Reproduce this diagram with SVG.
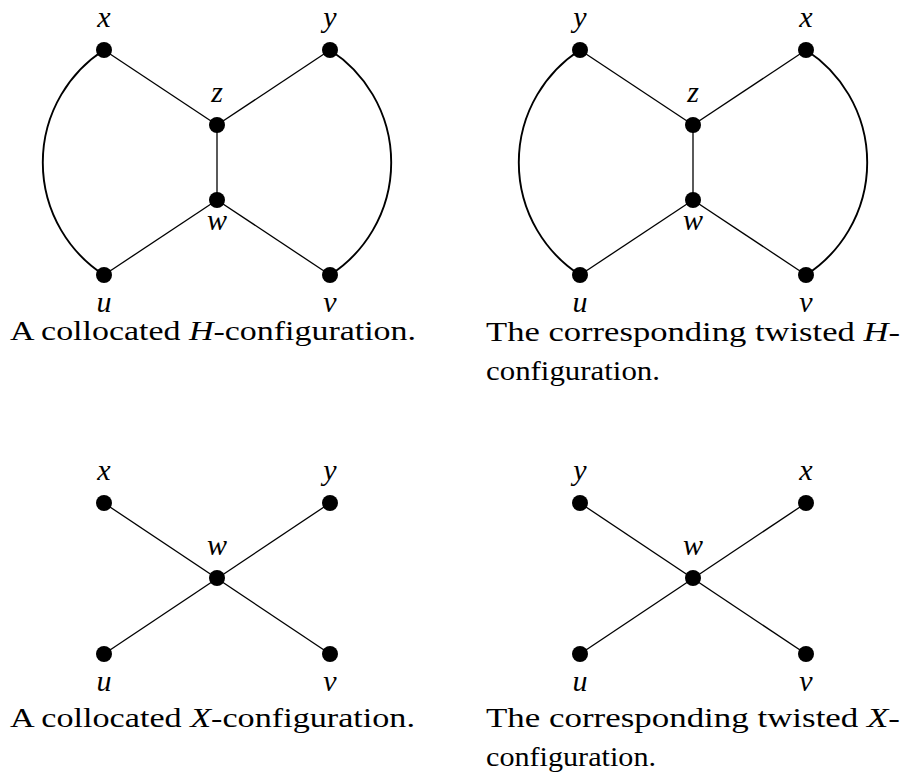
<svg xmlns="http://www.w3.org/2000/svg" width="904" height="782" viewBox="0 0 904 782">
<style>
.e{stroke:#000;stroke-width:1.3;fill:none}
.c{stroke:#000;stroke-width:1.9;fill:none}
.n{fill:#000}
.l{font-family:'Liberation Serif','Times New Roman',Times,serif;font-style:italic;font-size:30px;text-anchor:middle;fill:#000}
.cap{font-family:'Liberation Serif','Times New Roman',Times,serif;font-size:28px;fill:#000}
.i{font-style:italic}
</style>
<rect width="904" height="782" fill="#fff"/>
<g id="connectors">
  <path class="c" d="M104,50 A134,134 0 0 0 104,275"/>
  <path class="c" d="M330,50 A134,134 0 0 1 330,275"/>
  <line class="e" x1="104" y1="50" x2="217" y2="125"/>
  <line class="e" x1="330" y1="50" x2="217" y2="125"/>
  <line class="e" x1="217" y1="125" x2="217" y2="200"/>
  <line class="e" x1="217" y1="200" x2="104" y2="275"/>
  <line class="e" x1="217" y1="200" x2="330" y2="275"/>
  <path class="c" d="M580,50 A134,134 0 0 0 580,275"/>
  <path class="c" d="M806,50 A134,134 0 0 1 806,275"/>
  <line class="e" x1="580" y1="50" x2="693" y2="125"/>
  <line class="e" x1="806" y1="50" x2="693" y2="125"/>
  <line class="e" x1="693" y1="125" x2="693" y2="200"/>
  <line class="e" x1="693" y1="200" x2="580" y2="275"/>
  <line class="e" x1="693" y1="200" x2="806" y2="275"/>
  <line class="e" x1="104" y1="503" x2="330" y2="654"/>
  <line class="e" x1="330" y1="503" x2="104" y2="654"/>
  <line class="e" x1="580" y1="503" x2="806" y2="654"/>
  <line class="e" x1="806" y1="503" x2="580" y2="654"/>
</g>
<g id="H1">
  <g id="H1-x"><circle class="n" cx="104" cy="50" r="8"/><text class="l" x="104" y="27">x</text></g>
  <g id="H1-y"><circle class="n" cx="330" cy="50" r="8"/><text class="l" x="330" y="27">y</text></g>
  <g id="H1-z"><circle class="n" cx="217" cy="125" r="8"/><text class="l" x="217" y="102">z</text></g>
  <g id="H1-w"><circle class="n" cx="217" cy="200" r="8"/><text class="l" x="217" y="230">w</text></g>
  <g id="H1-u"><circle class="n" cx="104" cy="275" r="8"/><text class="l" x="104" y="312">u</text></g>
  <g id="H1-v"><circle class="n" cx="330" cy="275" r="8"/><text class="l" x="330" y="312">v</text></g>
  <text class="cap" x="10" y="340" textLength="406" lengthAdjust="spacingAndGlyphs">A collocated <tspan class="i">H</tspan>-configuration.</text>
</g>
<g id="H2">
  <g id="H2-y"><circle class="n" cx="580" cy="50" r="8"/><text class="l" x="580" y="27">y</text></g>
  <g id="H2-x"><circle class="n" cx="806" cy="50" r="8"/><text class="l" x="806" y="27">x</text></g>
  <g id="H2-z"><circle class="n" cx="693" cy="125" r="8"/><text class="l" x="693" y="102">z</text></g>
  <g id="H2-w"><circle class="n" cx="693" cy="200" r="8"/><text class="l" x="693" y="230">w</text></g>
  <g id="H2-u"><circle class="n" cx="580" cy="275" r="8"/><text class="l" x="580" y="312">u</text></g>
  <g id="H2-v"><circle class="n" cx="806" cy="275" r="8"/><text class="l" x="806" y="312">v</text></g>
  <text class="cap" x="486" y="341" textLength="414" lengthAdjust="spacingAndGlyphs">The corresponding twisted <tspan class="i">H</tspan>-</text>
  <text class="cap" x="486" y="380" textLength="174" lengthAdjust="spacingAndGlyphs">configuration.</text>
</g>
<g id="X1">
  <g id="X1-x"><circle class="n" cx="104" cy="503" r="8"/><text class="l" x="104" y="480">x</text></g>
  <g id="X1-y"><circle class="n" cx="330" cy="503" r="8"/><text class="l" x="330" y="480">y</text></g>
  <g id="X1-w"><circle class="n" cx="217" cy="578" r="8"/><text class="l" x="217" y="555">w</text></g>
  <g id="X1-u"><circle class="n" cx="104" cy="654" r="8"/><text class="l" x="104" y="691">u</text></g>
  <g id="X1-v"><circle class="n" cx="330" cy="654" r="8"/><text class="l" x="330" y="691">v</text></g>
  <text class="cap" x="10" y="727" textLength="405" lengthAdjust="spacingAndGlyphs">A collocated <tspan class="i">X</tspan>-configuration.</text>
</g>
<g id="X2">
  <g id="X2-y"><circle class="n" cx="580" cy="503" r="8"/><text class="l" x="580" y="480">y</text></g>
  <g id="X2-x"><circle class="n" cx="806" cy="503" r="8"/><text class="l" x="806" y="480">x</text></g>
  <g id="X2-w"><circle class="n" cx="693" cy="578" r="8"/><text class="l" x="693" y="555">w</text></g>
  <g id="X2-u"><circle class="n" cx="580" cy="654" r="8"/><text class="l" x="580" y="691">u</text></g>
  <g id="X2-v"><circle class="n" cx="806" cy="654" r="8"/><text class="l" x="806" y="691">v</text></g>
  <text class="cap" x="486" y="727" textLength="414" lengthAdjust="spacingAndGlyphs">The corresponding twisted <tspan class="i">X</tspan>-</text>
  <text class="cap" x="486" y="766" textLength="170" lengthAdjust="spacingAndGlyphs">configuration.</text>
</g>
</svg>
